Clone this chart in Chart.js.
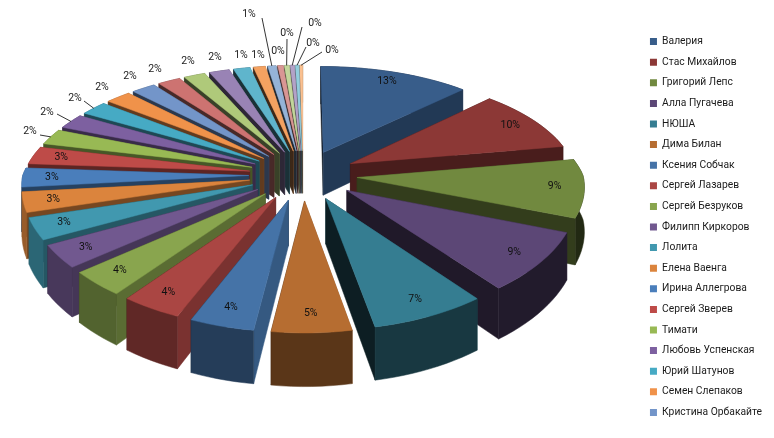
<!DOCTYPE html>
<html>
<head>
<meta charset="utf-8">
<script src="https://cdn.jsdelivr.net/npm/chart.js@4"></script>
<style>
    html, body { margin: 0; padding: 0; background: #fff; }
    canvas { display: block; }
</style>
</head>
<body>
<canvas id="chart" width="774" height="438"></canvas>
<script>
// Data (the legend only shows the first 19 names)
const names = ['Валерия', 'Стас Михайлов', 'Григорий Лепс', 'Алла Пугачева', 'НЮША', 'Дима Билан',
    'Ксения Собчак', 'Сергей Лазарев', 'Сергей Безруков', 'Филипп Киркоров', 'Лолита', 'Елена Ваенга',
    'Ирина Аллегрова', 'Сергей Зверев', 'Тимати', 'Любовь Успенская', 'Юрий Шатунов', 'Семен Слепаков',
    'Кристина Орбакайте', '', '', '', '', '', '', '', '', '', '', ''];
const shares = [12.6, 9.7, 8.8, 8.6, 7.45, 5.2, 4.2, 3.9, 3.6, 3.3, 3.2, 3.0, 2.9, 2.7,
    2.4, 2.3, 2.2, 2.1, 2.0, 1.9, 1.8, 1.7, 1.4, 1.0, 0.7, 0.45, 0.4, 0.35, 0.3, 0.25];
const colors = ['#385D8A', '#8C3836', '#71893F', '#5C4776', '#357D91', '#B66D31',
    '#4573A7', '#AA4643', '#89A54E', '#71588F', '#4198AF', '#DB843D',
    '#4A7EBB', '#BE4B48', '#98B954', '#7D60A0', '#46AAC4', '#F0924A',
    '#7395C9', '#CD7371', '#AFC97A', '#9983B5', '#5FB5CC', '#F4A261',
    '#95B3D7', '#D99694', '#C3D69B', '#B3A2C7', '#93CDDD', '#FAC090'];

// Where the small slices put their labels: [x, y, leader start x, leader start y]
const outerSpots = {
    15: [30, 131, 40, 135], 16: [47, 112, 57, 114], 17: [75, 98, 84, 101], 18: [102, 87],
    19: [130, 76], 20: [155, 69], 21: [188, 61], 22: [215, 57],
    23: [241, 55], 24: [258, 55], 25: [249, 14, 262, 18], 26: [278, 51],
    27: [287, 33, 287, 39], 28: [315, 23, 302, 27], 29: [313, 43, 306, 47], 30: [332, 50, 322, 52]
};

// 3D view settings
const centerX = 303, centerY = 175;
const radiusX = 226, radiusY = 104.5;
const explode = 0.24, viewDist = 6.9, depth = 44;

function project(u, v, drop) {
    const s = viewDist / (viewDist - v);
    // the front of the pie widens less than it drops
    const sx = v > 0 ? 1 + (s - 1) * 0.5 : s;
    return { x: centerX + u * radiusX * sx, y: centerY + v * radiusY * s + (drop || 0) * s };
}

function shade(hex, k) {
    const n = parseInt(hex.slice(1), 16);
    const c = [n >> 16, (n >> 8) & 255, n & 255].map(x => Math.round(x * k));
    return `rgb(${c[0]},${c[1]},${c[2]})`;
}

function fillShape(ctx, points, fill) {
    ctx.beginPath();
    points.forEach((s, k) => {
        if (k === 0) ctx.moveTo(s.x, s.y); else ctx.lineTo(s.x, s.y);
    });
    ctx.closePath();
    ctx.fillStyle = fill;
    ctx.strokeStyle = fill;
    ctx.lineWidth = 0.5;
    ctx.fill();
    ctx.stroke();
}

// Side wall below a run of top-face points
function wallShape(run) {
    const top = run.map(p => project(p[0], p[1]));
    const bottom = run.map(p => project(p[0], p[1], depth)).reverse();
    return top.concat(bottom);
}

// Draws the pie arcs that Chart.js laid out as exploded 3D wedges
const pie3d = {
    id: 'pie3d',
    beforeDatasetsDraw(chart) {
        const ctx = chart.ctx;
        const total = shares.reduce((a, b) => a + b, 0);
        const arcs = chart.getDatasetMeta(0).data;

        const wedges = arcs.map((arc, i) => {
            const { startAngle, endAngle } = arc.getProps(['startAngle', 'endAngle'], true);
            const mid = (startAngle + endAngle) / 2;
            const ox = Math.cos(mid) * explode, oy = Math.sin(mid) * explode;
            const rim = [];
            const steps = Math.max(2, Math.ceil((endAngle - startAngle) * 24));
            for (let k = 0; k <= steps; k++) {
                const a = startAngle + (endAngle - startAngle) * k / steps;
                rim.push([ox + Math.cos(a), oy + Math.sin(a)]);
            }
            return { i, mid, ox, oy, rim };
        });

        wedges.slice().sort((a, b) => a.oy - b.oy).forEach(w => {
            const color = colors[w.i];
            const apex = [w.ox, w.oy];
            const first = w.rim[0], last = w.rim[w.rim.length - 1];
            const faces = [
                { run: [apex, first], radial: true },
                { run: [last, apex], radial: true },
                { run: w.rim, radial: false }
            ].map(f => {
                const a = project(f.run[0][0], f.run[0][1]);
                const b = project(f.run[f.run.length - 1][0], f.run[f.run.length - 1][1]);
                const len = Math.hypot(b.x - a.x, b.y - a.y) || 1;
                const nx = (b.y - a.y) / len;
                return { run: f.run, y: (a.y + b.y) / 2, k: f.radial ? 0.5 + 0.28 * nx : 0.5 - 0.2 * nx };
            });
            faces.sort((p, q) => p.y - q.y).forEach(f => fillShape(ctx, wallShape(f.run), shade(color, f.k)));
            fillShape(ctx, [apex, ...w.rim].map(p => project(p[0], p[1])), color);
        });

        // Percent labels
        ctx.font = '10.5px Roboto, sans-serif';
        ctx.textAlign = 'center';
        ctx.textBaseline = 'middle';
        wedges.forEach(w => {
            const text = Math.round(shares[w.i] / total * 100) + '%';
            const spot = outerSpots[w.i + 1];
            const ux = Math.cos(w.mid), uy = Math.sin(w.mid);
            if (spot) {
                if (spot.length > 2) {
                    const rimPt = project(w.ox + ux, w.oy + uy);
                    ctx.beginPath();
                    ctx.moveTo(spot[2], spot[3]);
                    ctx.lineTo(rimPt.x, rimPt.y);
                    ctx.strokeStyle = '#000';
                    ctx.lineWidth = 0.8;
                    ctx.stroke();
                }
                ctx.fillStyle = '#222';
                ctx.fillText(text, spot[0], spot[1]);
            } else {
                const p = project(w.ox + ux * 0.87, w.oy + uy * 0.87);
                ctx.fillStyle = '#111';
                ctx.fillText(text, p.x, p.y);
            }
        });
        return false;
    }
};

new Chart(document.getElementById('chart'), {
    type: 'pie',
    data: {
        labels: names,
        datasets: [{ data: shares, backgroundColor: colors, borderWidth: 0 }]
    },
    options: {
        responsive: false,
        animation: false,
        layout: { padding: { top: 16, right: 2 } },
        plugins: {
            tooltip: { enabled: false },
            legend: {
                position: 'right',
                labels: {
                    boxWidth: 7,
                    boxHeight: 7,
                    padding: 10.3,
                    color: '#1a1a1a',
                    font: { size: 10.3, family: 'Roboto, sans-serif' },
                    filter: item => item.index < 19
                }
            }
        }
    },
    plugins: [pie3d]
});
</script>
</body>
</html>
